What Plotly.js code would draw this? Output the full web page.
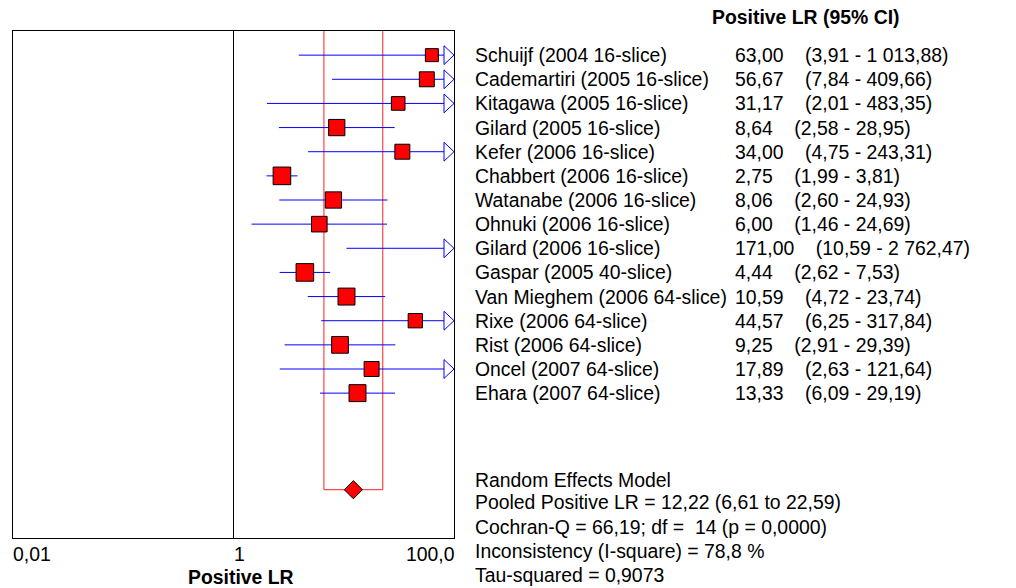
<!DOCTYPE html>
<html><head><meta charset="utf-8">
<script src="https://cdn.plot.ly/plotly-3.0.1.min.js"></script>
<style>html,body{margin:0;padding:0;background:#fff}#chart{width:1016px;height:588px}</style>
</head><body><div id="chart"></div>
<script>
// ---- data ----
const studies = [
  "Schuijf (2004 16-slice)", "Cademartiri (2005 16-slice)", "Kitagawa (2005 16-slice)",
  "Gilard (2005 16-slice)", "Kefer (2006 16-slice)", "Chabbert (2006 16-slice)",
  "Watanabe (2006 16-slice)", "Ohnuki (2006 16-slice)", "Gilard (2006 16-slice)",
  "Gaspar (2005 40-slice)", "Van Mieghem (2006 64-slice)", "Rixe (2006 64-slice)",
  "Rist (2006 64-slice)", "Oncel (2007 64-slice)", "Ehara (2007 64-slice)"
];
const lr     = [63.00, 56.67, 31.17, 8.64, 34.00, 2.75, 8.06, 6.00, 171.00, 4.44, 10.59, 44.57, 9.25, 17.89, 13.33];
const ciLow  = [3.91, 7.84, 2.01, 2.58, 4.75, 1.99, 2.60, 1.46, 10.59, 2.62, 4.72, 6.25, 2.91, 2.63, 6.09];
const ciHigh = [1013.88, 409.66, 483.35, 28.95, 243.31, 3.81, 24.93, 24.69, 2762.47, 7.53, 23.74, 317.84, 29.39, 121.64, 29.19];
const relWeight = [5.9, 6.8, 6.2, 7.4, 6.8, 8.0, 7.4, 7.1, 5.8, 8.0, 7.7, 6.5, 7.6, 6.8, 7.7];
const pooled = 12.22, pooledLow = 6.61, pooledHigh = 22.59;
const summaryLines = [
  "Random Effects Model",
  "Pooled Positive LR = 12,22 (6,61 to 22,59)",
  "Cochran-Q = 66,19; df =\u00a0\u00a014 (p = 0,0000)",
  "Inconsistency (I-square) = 78,8 %",
  "Tau-squared = 0,9073"
];
const tickVals = [0.01, 1, 100];
const tickText = ["0,01", "1", "100,0"];
const headerText = "Positive LR (95% CI)";
const axisTitle = "Positive LR";

// ---- layout constants ----
const W = 1016, H = 588;
const M = {l: 13, r: 562, t: 31, b: 50};
const PW = W - M.l - M.r, PH = H - M.t - M.b;
const X_LOG = [-2, 2];
const Y_RANGE = [21, 0];
const pooledRow = 19;
const FONT = "Liberation Sans, Arial, Helvetica, sans-serif";
const FS = 19.4;
const px2paperX = p => (p - M.l) / PW;
const px2paperY = p => (H - M.b - p) / PH;

function fmt(v) {
  const s = v.toFixed(2).split('.');
  const ip = s[0].replace(/\B(?=(\d{3})+(?!\d))/g, '\u00a0');
  return ip + ',' + s[1];
}

const rows = studies.map((_, i) => i + 1);
const xMax = Math.pow(10, X_LOG[1]);
const arrowLenLog = 10 / (PW / (X_LOG[1] - X_LOG[0]));
const arrowBase = Math.pow(10, X_LOG[1] - arrowLenLog);
const arrowHalf = 0.39;

// CI lines
const ciX = [], ciY = [];
const arX = [], arY = [];
rows.forEach((r, i) => {
  const over = ciHigh[i] > xMax;
  ciX.push(ciLow[i], over ? arrowBase : ciHigh[i], null);
  ciY.push(r, r, null);
  if (over) {
    arX.push(arrowBase, xMax, arrowBase, arrowBase, null);
    arY.push(r - arrowHalf, r, r + arrowHalf, r - arrowHalf, null);
  }
});

const traces = [
  {x: [1, 1], y: [Y_RANGE[1], Y_RANGE[0]], mode: 'lines', line: {color: 'black', width: 1}, hoverinfo: 'skip'},
  {x: [pooledLow, pooledLow, pooledHigh, pooledHigh], y: [Y_RANGE[1], pooledRow, pooledRow, Y_RANGE[1]],
   mode: 'lines', line: {color: '#ff2020', width: 1}, hoverinfo: 'skip'},
  {x: ciX, y: ciY, mode: 'lines', line: {color: '#0000ff', width: 1}, hoverinfo: 'skip'},
  {x: arX, y: arY, mode: 'lines', line: {color: '#0000ff', width: 1}, hoverinfo: 'skip', cliponaxis: false},
  {x: lr, y: rows, mode: 'markers', cliponaxis: true,
   marker: {symbol: 'square', size: relWeight.map(w => w * 2.2), color: '#ff0000', opacity: 1,
            line: {color: 'black', width: 1}}},
  {x: [pooled], y: [pooledRow], mode: 'markers',
   marker: {symbol: 'diamond', size: 14, color: '#ff0000', opacity: 1, line: {color: 'black', width: 1}}}
];

const ann = [];
const tf = {family: FONT, size: FS, color: 'black'};
rows.forEach((r, i) => {
  ann.push({xref: 'paper', yref: 'y', x: px2paperX(473), y: r, xanchor: 'left', yanchor: 'middle',
            text: studies[i], showarrow: false, font: tf});
  ann.push({xref: 'paper', yref: 'y', x: px2paperX(733), y: r, xanchor: 'left', yanchor: 'middle',
            text: fmt(lr[i]) + '\u00a0\u00a0\u00a0\u00a0(' + fmt(ciLow[i]) + ' - ' + fmt(ciHigh[i]) + ')',
            showarrow: false, font: tf});
});
ann.push({xref: 'paper', yref: 'paper', x: px2paperX(806), y: px2paperY(17), xanchor: 'center', yanchor: 'middle',
          text: '<b>' + headerText + '</b>', showarrow: false, font: tf});
tickVals.forEach((v, i) => {
  const last = i === tickVals.length - 1;
  ann.push({xref: 'x', yref: 'paper', x: Math.log10(v), y: px2paperY(554), xanchor: last ? 'right' : 'left',
            yanchor: 'middle', text: tickText[i], showarrow: false, font: tf, xshift: last ? 3 : -2});
});
ann.push({xref: 'paper', yref: 'paper', x: px2paperX(241), y: px2paperY(577), xanchor: 'center', yanchor: 'middle',
          text: '<b>' + axisTitle + '</b>', showarrow: false, font: tf});
const sumY = [480, 502, 527, 551, 575];
summaryLines.forEach((t, i) => {
  ann.push({xref: 'paper', yref: 'paper', x: px2paperX(473), y: px2paperY(sumY[i]), xanchor: 'left', yanchor: 'middle',
            text: t, showarrow: false, font: tf});
});

const axisCommon = {showgrid: false, zeroline: false, showticklabels: false, ticks: '',
                    showline: true, mirror: true, linecolor: 'black', linewidth: 1, fixedrange: true};
const layout = {
  width: W, height: H, margin: M, showlegend: false,
  paper_bgcolor: 'white', plot_bgcolor: 'white', font: tf,
  xaxis: Object.assign({type: 'log', range: X_LOG}, axisCommon),
  yaxis: Object.assign({range: Y_RANGE}, axisCommon),
  annotations: ann
};
Plotly.newPlot('chart', traces, layout, {displayModeBar: false, staticPlot: true});
</script>
</body></html>
